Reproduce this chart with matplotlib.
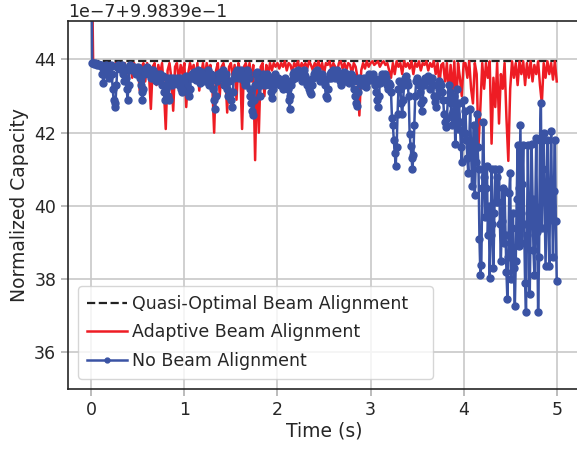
import numpy as np
import matplotlib
matplotlib.use("Agg")
import matplotlib.pyplot as plt
from matplotlib.ticker import ScalarFormatter

# capacity values in units of 1e-7 above 0.99839
base = 0.99839
scale = 1e-7

quasi_level = 43.95

adaptive = [
    48.0,
    43.92, 43.9, 43.85, 43.9, 43.88, 43.8, 43.9, 43.85, 43.9, 43.82,
    43.9, 43.8, 43.9, 43.7, 43.85, 43.9, 43.75, 43.9, 43.6, 43.85,
    43.9, 43.5, 43.9, 43.7, 43.85, 43.15, 43.8, 43.9, 43.4, 43.9,
    43.6, 42.65, 43.8, 43.9, 43.3, 43.85, 43.6, 43.9, 43.2, 42.1,
    43.7, 43.9, 43.5, 42.6, 43.8, 43.9, 43.4, 43.85, 43.6, 43.9,
    42.7, 43.6, 43.9, 43.7, 43.85, 43.4, 43.9, 43.15, 43.6, 43.9,
    43.5, 43.9, 43.7, 43.85, 43.3, 42.0, 43.7, 43.9, 43.0, 43.8,
    43.9, 43.6, 42.55, 43.8, 43.9, 43.5, 43.85, 42.9, 43.9, 43.7,
    42.1, 43.8, 43.9, 43.6, 43.9, 43.4, 43.85, 41.25, 43.7, 42.0,
    43.8, 43.9, 43.0, 43.85, 43.6, 43.9, 43.7, 43.9, 43.8, 43.9,
    43.75, 43.9, 43.8, 43.95, 43.7, 43.9, 43.85, 43.65, 43.9, 43.8,
    43.95, 43.7, 43.9, 43.8, 43.9, 43.75, 43.95, 43.85, 43.7, 43.9,
    43.8, 43.95, 43.7, 43.9, 43.6, 43.9, 43.85, 43.95, 43.7, 43.9,
    43.8, 43.65, 43.9, 43.95, 43.75, 43.9, 43.7, 43.9, 43.85, 43.6,
    43.9, 43.8, 43.5, 42.47, 43.7, 43.9, 43.75, 43.95, 43.8, 43.9,
    43.95, 43.85, 43.9, 43.95, 43.8, 43.9, 43.95, 43.85, 43.9, 43.7,
    43.5, 43.9, 43.6, 43.95, 43.8, 43.9, 43.6, 43.95, 43.8, 43.9,
    43.75, 43.95, 43.6, 43.9, 43.8, 43.95, 43.7, 43.9, 43.85, 43.95,
    43.7, 43.9, 43.8, 43.95, 43.6, 43.9, 43.3, 43.85, 43.9, 43.4,
    43.9, 43.0, 43.85, 43.1, 43.95, 42.65, 43.9, 43.5, 43.0, 43.9,
    43.9, 43.5, 43.95, 43.2, 42.8, 43.9, 43.6, 41.65, 42.7, 43.9,
    43.2, 43.9, 43.5, 43.95, 41.7, 43.5, 42.7, 43.9, 42.25, 43.6,
    43.2, 43.9, 42.4, 41.23, 43.2, 43.95, 43.5, 43.9, 43.3, 43.95,
    43.6, 43.95, 43.3, 43.9, 43.5, 43.95, 43.4, 43.85, 43.6, 43.95,
    43.3, 42.8, 43.9, 43.5, 43.95, 43.6, 43.9, 43.45, 43.95, 43.4,
]

no_align = [
    48.0,
    43.9, 43.9, 43.88, 43.9, 43.87, 43.85, 43.88, 43.86, 43.84, 43.85,
    43.8, 43.6, 43.35, 43.6, 43.82, 43.85, 43.8, 43.7, 43.5, 43.8,
    43.85, 43.6, 43.2, 42.9, 42.7, 42.8, 43.3, 43.8, 43.85, 43.8,
    43.75, 43.8, 43.85, 43.6, 43.4, 43.7, 43.5, 43.2, 42.9, 43.3,
    43.8, 43.85, 43.82, 43.7, 43.75, 43.8, 43.7, 43.6, 43.75, 43.8,
    43.7, 43.5, 43.3, 43.1, 42.9, 43.2, 43.6, 43.75, 43.7, 43.8,
    43.75, 43.6, 43.7, 43.5, 43.65, 43.7, 43.55, 43.6, 43.4, 43.5,
    43.6, 43.5, 43.45, 43.6, 43.5, 43.3, 43.55, 43.1, 42.9, 43.2,
    43.5, 43.0, 42.9, 43.3, 43.5, 43.45, 43.3, 43.5, 43.4, 43.45,
    43.35, 43.5, 43.4, 43.3, 43.5, 43.2, 43.1, 43.2, 43.45, 43.5,
    43.4, 43.55, 43.3, 43.1, 43.0, 43.2, 43.5, 43.6, 43.5, 43.65,
    43.55, 43.6, 43.45, 43.6, 43.7, 43.5, 43.35, 43.55, 43.65, 43.6,
    43.5, 43.4, 43.55, 43.6, 43.7, 43.5, 43.3, 43.45, 43.6, 43.55,
    43.2, 42.9, 42.65, 43.0, 43.4, 43.6, 43.55, 43.5, 43.65, 43.6,
    43.7, 43.5, 43.3, 43.55, 43.6, 43.2, 43.0, 43.4, 43.1, 42.9,
    42.7, 43.1, 43.5, 43.6, 43.55, 43.65, 43.7, 43.6, 43.5, 43.65,
    43.7, 43.55, 43.6, 43.4, 43.3, 43.55, 43.7, 43.65, 43.5, 43.2,
    43.0, 42.8, 42.6, 42.47, 42.9, 43.3, 43.6, 43.65, 43.5, 43.3,
    43.0, 43.3, 43.5, 43.6, 43.55, 43.4, 43.3, 43.5, 43.6, 43.55,
    43.45, 43.3, 43.1, 42.95, 43.2, 43.5, 43.6, 43.5, 43.35, 43.45,
    43.5, 43.4, 43.3, 43.45, 43.3, 43.2, 43.4, 43.5, 43.35, 43.3,
    43.2, 42.9, 42.65, 43.0, 43.3, 43.45, 43.6, 43.65, 43.5, 43.55,
    43.6, 43.7, 43.65, 43.55, 43.6, 43.4, 43.5, 43.6, 43.7, 43.55,
    43.4, 43.3, 43.45, 43.2, 43.1, 43.07, 43.3, 43.5, 43.6, 43.65,
    43.6, 43.7, 43.55, 43.6, 43.5, 43.4, 43.55, 43.6, 43.5, 43.45,
    43.3, 43.0, 42.96, 43.2, 43.5, 43.6, 43.65, 43.5, 43.6, 43.7,
    43.6, 43.5, 43.65, 43.7, 43.6, 43.5, 43.4, 43.3, 43.5, 43.6,
    43.65, 43.55, 43.4, 43.5, 43.6, 43.5, 43.35, 43.45, 43.6, 43.55,
    43.4, 43.2, 43.0, 42.8, 42.74, 43.1, 43.4, 43.5, 43.45, 43.35,
    43.3, 43.4, 43.5, 43.35, 43.25, 43.4, 43.5, 43.6, 43.55, 43.5,
    43.45, 43.55, 43.6, 43.5, 43.3, 43.1, 42.9, 42.7, 43.0, 43.35,
    43.5, 43.6, 43.5, 43.4, 43.55, 43.6, 43.5, 43.3, 43.2, 43.35,
    43.3, 43.1, 42.4, 42.2, 41.8, 41.45, 41.1, 41.6, 42.5, 43.2,
    43.4, 43.2, 42.8, 42.5, 42.9, 43.3, 43.5, 43.55, 43.4, 43.3,
    43.0, 41.97, 41.64, 41.3, 41.0, 41.4, 42.2, 43.0, 43.4, 43.5,
    43.4, 43.3, 43.1, 42.8, 42.6, 42.9, 43.3, 43.45, 43.5, 43.4,
    43.5, 43.55, 43.4, 43.2, 43.4, 43.5, 43.3, 43.0, 42.85, 42.7,
    43.0, 43.3, 43.4, 43.2, 43.35, 43.3, 43.1, 42.9, 42.5, 42.3,
    42.15, 42.4, 42.9, 43.3, 43.1, 42.8, 42.5, 42.2, 42.6, 43.0,
    41.7, 42.5, 43.2, 42.1, 42.8, 42.3, 41.6, 41.2, 42.0, 42.9,
    42.0, 42.6, 41.8, 41.3, 40.9, 41.8, 42.65, 41.5, 40.55, 41.3,
    42.2, 40.3, 41.2, 42.5, 41.6, 41.0, 39.1, 38.1, 38.4, 40.5,
    42.3, 40.8, 39.7, 40.5, 41.1, 39.2, 40.0, 38.03, 39.2, 41.0,
    39.5, 38.3, 39.8, 41.0, 40.1, 40.8, 40.1, 41.0, 39.5, 38.5,
    39.6, 40.5, 39.0, 40.4, 39.2, 38.2, 37.45, 38.6, 40.35, 40.9,
    38.0, 39.4, 39.8, 38.3, 37.26, 38.5, 40.2, 41.65, 38.9, 40.5,
    42.2, 39.0, 40.6, 41.65, 39.5, 37.9, 37.1, 39.2, 41.65, 39.8,
    37.6, 39.5, 41.7, 40.2, 38.8, 38.1, 40.0, 41.85, 39.3, 37.1,
    38.6, 41.8, 42.8, 39.4, 41.0, 42.0, 40.2, 38.35, 40.1, 41.8,
    39.6, 38.35, 40.5, 42.05, 40.0, 38.6, 40.4, 41.8, 39.6, 37.95,
]

t_adaptive = np.arange(len(adaptive)) * 0.02
t_no = np.arange(len(no_align)) * 0.01
t_quasi = [0.0, 5.0]

y_adaptive = base + np.array(adaptive) * scale
y_no = base + np.array(no_align) * scale
y_quasi = base + np.array([quasi_level, quasi_level]) * scale

fig = plt.figure(figsize=(5.77, 4.49), dpi=100)
ax = fig.add_axes([68 / 577, 1 - 389 / 449, 512 / 577, 368 / 449])

ax.plot(t_quasi, y_quasi, color="#222222", linestyle="--", linewidth=1.6,
        label="Quasi-Optimal Beam Alignment")
ax.plot(t_adaptive, y_adaptive, color="#ee1c24", linewidth=1.8,
        label="Adaptive Beam Alignment")
ax.plot(t_no, y_no, color="#3a53a4", linewidth=1.8, marker="o",
        markersize=5, label="No Beam Alignment")

ax.set_xlim(-0.25, 5.25)
ax.set_ylim(base + 35.0 * scale, base + 45.05 * scale)
ax.set_xticks([0, 1, 2, 3, 4, 5])
ax.set_yticks(base + np.array([36, 38, 40, 42, 44]) * scale)

# offset text like "1e-7+9.9839e-1"
fmt = ScalarFormatter(useOffset=base)
fmt.set_powerlimits((-7, -7))
ax.yaxis.set_major_formatter(fmt)

ax.grid(True, color="#c8c8c8", linewidth=1.2)
ax.set_axisbelow(True)
for side in ["left", "bottom", "top", "right"]:
    ax.spines[side].set_color("#262626")
    ax.spines[side].set_linewidth(1.2)

ax.tick_params(axis="both", which="major", labelsize=12.5, length=5, width=1.2,
               color="#b0b0b0", labelcolor="#262626", direction="out")
ax.yaxis.get_offset_text().set_fontsize(12.5)
ax.yaxis.get_offset_text().set_color("#262626")

ax.set_xlabel("Time (s)", fontsize=13.5, color="#262626", labelpad=2)
ax.set_ylabel("Normalized Capacity", fontsize=13.5, color="#262626", labelpad=4)

leg = ax.legend(loc="lower left", bbox_to_anchor=(0.0, 0.0, 0.733, 1.0),
                mode="expand", borderaxespad=0.6, fontsize=12.5, frameon=True,
                fancybox=True, handlelength=2.3, handletextpad=0.3,
                borderpad=0.5, labelspacing=0.6, markerscale=0.7)
leg.get_frame().set_edgecolor("#cccccc")
for txt in leg.get_texts():
    txt.set_color("#262626")

fig.savefig("out.png", dpi=100)
